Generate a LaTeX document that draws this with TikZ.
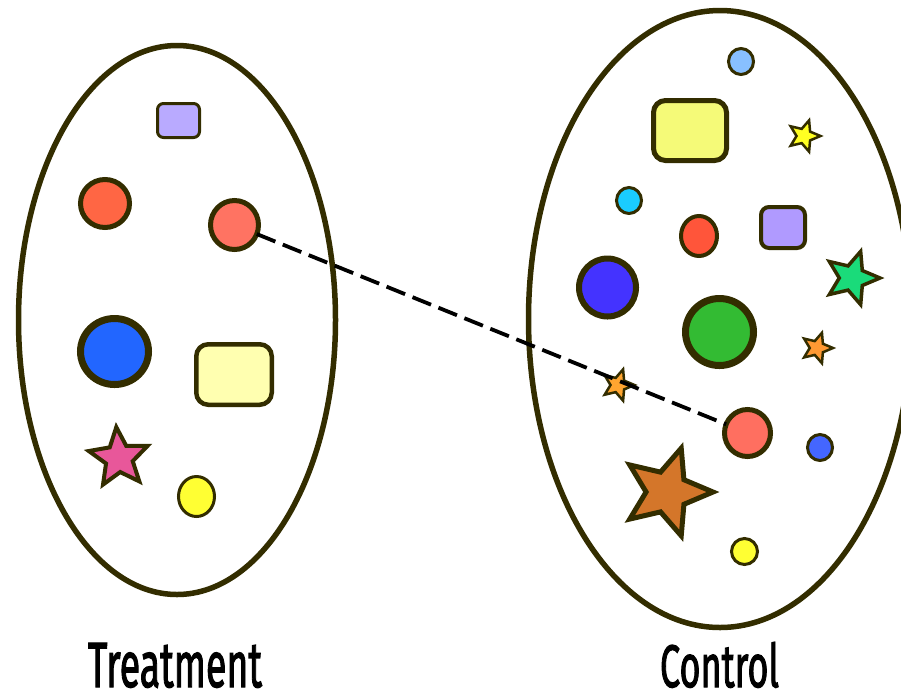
\documentclass[tikz,border=0pt]{standalone}
\usepackage{graphicx}
\usepackage{fontspec}
\setmainfont{Fira Sans}
\newfontfamily\lblfont{Fira Sans}[FakeBold=2.2]
\usetikzlibrary{shapes.geometric}
\definecolor{edge}{RGB}{51,45,0}
\definecolor{lavA}{RGB}{185,170,255}
\definecolor{orangered}{RGB}{255,102,68}
\definecolor{salmonA}{RGB}{255,115,98}
\definecolor{blueA}{RGB}{34,102,255}
\definecolor{paleyellow}{RGB}{255,255,176}
\definecolor{pinkA}{RGB}{232,87,154}
\definecolor{yellowA}{RGB}{255,255,51}
\definecolor{lightblue}{RGB}{136,192,255}
\definecolor{yellowB}{RGB}{245,250,120}
\definecolor{yellowstar}{RGB}{255,255,34}
\definecolor{cyanA}{RGB}{26,204,255}
\definecolor{redA}{RGB}{255,85,58}
\definecolor{lavB}{RGB}{176,154,255}
\definecolor{greenstar}{RGB}{26,219,122}
\definecolor{darkblue}{RGB}{68,51,255}
\definecolor{greenA}{RGB}{51,187,51}
\definecolor{orangeA}{RGB}{255,153,51}
\definecolor{orangeB}{RGB}{255,165,48}
\definecolor{salmonB}{RGB}{255,111,96}
\definecolor{blueB}{RGB}{68,102,255}
\definecolor{brownA}{RGB}{212,118,42}
\begin{document}
\begin{tikzpicture}[x=1pt,y=-1pt,
  blob/.style={draw=edge, inner sep=0pt, outer sep=0pt},
  disc/.style={blob, ellipse},
  box/.style={blob, rectangle},
  starshape/.style={blob, star, star points=5, star point ratio=2.2},
  groupring/.style={draw=edge, line width=5.5pt, ellipse, inner sep=0pt, outer sep=0pt},
  grouplabel/.style={inner sep=0pt, anchor=base, font=\lblfont},
  link/.style={black, line width=3.8pt, dash pattern=on 20pt off 8pt}
]
\useasboundingbox (0,0) rectangle (901,697);
\clip (0,0) rectangle (901,697);

% group outlines
\node[groupring, minimum width=317pt, minimum height=549pt] (treat) at (177,320) {};
\node[groupring, minimum width=383pt, minimum height=617pt] (ctrl) at (720,319) {};

% Treatment members
\node[box, fill=lavA, line width=3pt, rounded corners=6pt, minimum width=42pt, minimum height=34pt] (t1) at (178.5,120.5) {};
\node[disc, fill=orangered, line width=5pt, minimum width=49pt, minimum height=48pt] (t2) at (105,203.5) {};
\node[disc, fill=salmonA, line width=5pt, minimum width=48pt, minimum height=49pt] (tmatch) at (234.5,225) {};
\node[disc, fill=blueA, line width=7pt, minimum width=68pt, minimum height=66pt] (t4) at (114.5,351.5) {};
\node[box, fill=paleyellow, line width=4.5pt, rounded corners=12pt, minimum width=75.5pt, minimum height=60.5pt] (t5) at (234,374.5) {};
\node[starshape, fill=pinkA, line width=4pt, minimum size=62pt, shape border rotate=5] (t6) at (119,458) {};
\node[disc, fill=yellowA, line width=3pt, minimum width=36pt, minimum height=40pt] (t7) at (196.5,496.5) {};

% Control members
\node[disc, fill=lightblue, line width=3pt, minimum width=25pt, minimum height=26pt] (c1) at (741,61.5) {};
\node[box, fill=yellowB, line width=5pt, rounded corners=12pt, minimum width=73pt, minimum height=60pt] (c2) at (690,130.5) {};
\node[starshape, fill=yellowstar, line width=2.5pt, minimum size=33pt, shape border rotate=-90] (c3) at (804,136) {};
\node[disc, fill=cyanA, line width=3pt, minimum width=25pt, minimum height=26pt] (c4) at (629,200.5) {};
\node[disc, fill=redA, line width=4pt, minimum width=36pt, minimum height=40pt] (c5) at (699,236) {};
\node[box, fill=lavB, line width=4pt, rounded corners=8pt, minimum width=44pt, minimum height=41pt] (c6) at (783,227.5) {};
\node[starshape, fill=greenstar, line width=3.5pt, minimum size=56pt, shape border rotate=-90] (c7) at (852,278) {};
\node[disc, fill=darkblue, line width=6pt, minimum width=57pt, minimum height=58pt] (c8) at (607.5,287.5) {};
\node[disc, fill=greenA, line width=7pt, minimum width=68pt, minimum height=67pt] (c9) at (719.5,332) {};
\node[starshape, fill=orangeA, line width=2.5pt, minimum size=32pt, shape border rotate=-90] (c10) at (817,348) {};
\node[starshape, fill=orangeB, line width=2.5pt, minimum size=33pt, shape border rotate=-90] (c11) at (618,385) {};
\node[disc, fill=salmonB, line width=5pt, minimum width=46pt, minimum height=47pt] (cmatch) at (747.5,433) {};
\node[disc, fill=blueB, line width=3pt, minimum width=25pt, minimum height=26pt] (c13) at (820,447.5) {};
\node[starshape, fill=brownA, line width=5pt, minimum size=92pt, shape border rotate=-90] (c14) at (667,492) {};
\node[disc, fill=yellowA, line width=3pt, minimum width=26pt, minimum height=26pt] (c15) at (744.5,551.5) {};

% matched pair
\draw[link] (tmatch) -- (cmatch);

% labels
\node[grouplabel] (tlabel) at (175,687) {\resizebox{174pt}{44pt}{Treatment}};
\node[grouplabel] (clabel) at (719.5,687) {\resizebox{119pt}{45pt}{Control}};
\end{tikzpicture}
\end{document}
